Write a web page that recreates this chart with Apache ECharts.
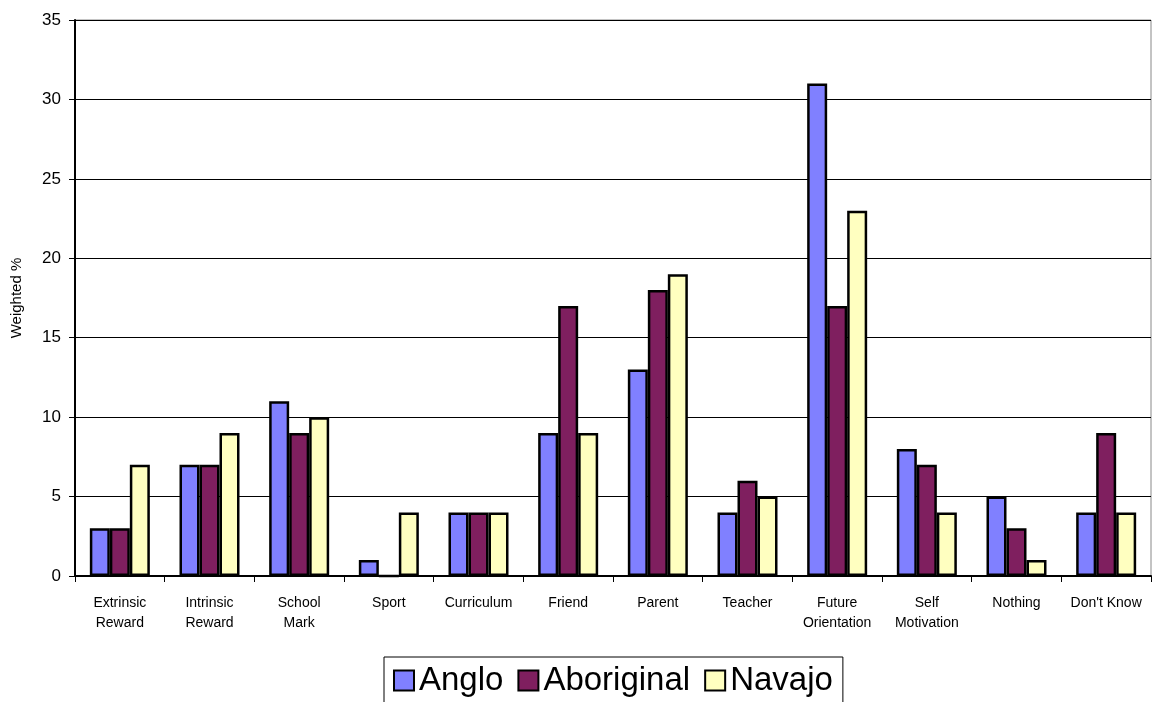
<!DOCTYPE html>
<html>
<head>
<meta charset="utf-8">
<script src="https://cdn.jsdelivr.net/npm/echarts@6/dist/echarts.min.js"></script>
<style>
  html, body { margin: 0; padding: 0; background: #fff; }
  #chart { width: 1157px; height: 702px; }
</style>
</head>
<body>
<div id="chart"></div>
<script>
// Reasons categories and weighted percentages per group
const categories = ['Extrinsic\nReward', 'Intrinsic\nReward', 'School\nMark', 'Sport', 'Curriculum',
  'Friend', 'Parent', 'Teacher', 'Future\nOrientation', 'Self\nMotivation', 'Nothing', "Don't Know"];
const anglo      = [3, 7, 11, 1, 4, 9, 13, 4, 31, 8, 5, 4];
const aboriginal = [3, 7, 9, 0, 4, 17, 18, 6, 17, 7, 3, 9];
const navajo     = [7, 9, 10, 4, 4, 9, 19, 5, 23, 4, 1, 4];
const yTicks = [0, 5, 10, 15, 20, 25, 30, 35];

const colors = { Anglo: '#8080FF', Aboriginal: '#7F1F5F', Navajo: '#FFFFC0' };
const font = 'Liberation Sans, Arial, sans-serif';

function barSeries(name, values) {
  return {
    name: name,
    type: 'bar',
    data: values,
    barWidth: 20,
    barGap: '0%',
    itemStyle: { color: colors[name], borderColor: '#000', borderWidth: 2.5 }
  };
}

const chart = echarts.init(document.getElementById('chart'), null, { renderer: 'canvas' });
chart.setOption({
  animation: false,
  grid: { left: 75, right: 6, top: 20, bottom: 126, containLabel: false,
          show: true, borderColor: '#888', borderWidth: 1 },
  legend: {
    data: ['Anglo', 'Aboriginal', 'Navajo'],
    top: 657,
    left: 384,
    itemWidth: 20, itemHeight: 20, itemGap: 14,
    padding: [7, 10, 10, 9],
    borderColor: '#000', borderWidth: 1,
    textStyle: { fontSize: 33, fontFamily: font, color: '#000', padding: [0, 0, 0, 0] },
    itemStyle: { borderColor: '#000', borderWidth: 2 },
    icon: 'rect'
  },
  xAxis: {
    type: 'category',
    data: categories,
    axisLine: { lineStyle: { color: '#000', width: 2 } },
    axisTick: { show: true, length: 6, lineStyle: { color: '#000' } },
    axisLabel: { fontSize: 14, fontFamily: font, color: '#000', lineHeight: 20, margin: 17, interval: 0 }
  },
  yAxis: {
    type: 'value',
    min: 0, max: yTicks[yTicks.length - 1], interval: 5,
    name: 'Weighted %',
    nameLocation: 'middle',
    nameGap: 51,
    nameTextStyle: { fontSize: 15, fontFamily: font, color: '#000' },
    axisLine: { show: true, lineStyle: { color: '#000', width: 2 } },
    axisTick: { show: true, length: 6, lineStyle: { color: '#000' } },
    axisLabel: { fontSize: 17, fontFamily: font, color: '#000', margin: 14 },
    splitLine: { lineStyle: { color: '#000', width: 1 } }
  },
  series: [
    barSeries('Anglo', anglo),
    barSeries('Aboriginal', aboriginal),
    barSeries('Navajo', navajo)
  ]
});
</script>
</body>
</html>
